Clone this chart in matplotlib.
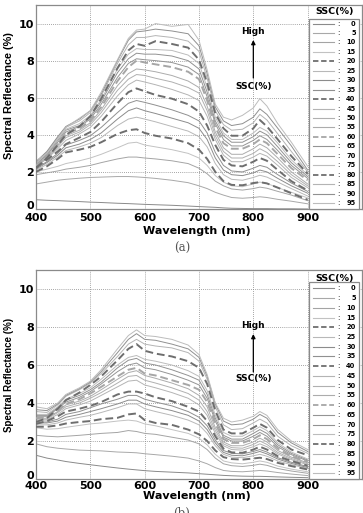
import matplotlib
matplotlib.use("Agg")
import matplotlib.pyplot as plt
from matplotlib.patches import Rectangle
from matplotlib.lines import Line2D

# ---------------- data ----------------
wavelength = [400, 420, 440, 455, 480, 500, 520, 550, 570, 585, 600, 620, 650,
              680, 700, 715, 730, 745, 760, 780, 800, 812, 825, 845, 870, 900]
ssc = [0, 5, 10, 15, 20, 25, 30, 35, 40, 45, 50, 55, 60, 65, 70, 75, 80, 85, 90, 95]

panel_a = [
    [0.50, 0.47, 0.45, 0.43, 0.40, 0.37, 0.35, 0.31, 0.29, 0.27, 0.25, 0.23, 0.20, 0.16, 0.13, 0.11, 0.09, 0.06, 0.04, 0.03, 0.02, 0.02, 0.02, 0.01, 0.01, 0.00],
    [1.35, 1.45, 1.55, 1.60, 1.66, 1.70, 1.72, 1.75, 1.75, 1.73, 1.70, 1.65, 1.55, 1.42, 1.25, 1.10, 0.90, 0.75, 0.62, 0.58, 0.62, 0.66, 0.62, 0.52, 0.42, 0.28],
    [1.85, 1.95, 2.05, 2.15, 2.25, 2.35, 2.50, 2.70, 2.80, 2.80, 2.75, 2.70, 2.60, 2.45, 2.20, 1.90, 1.50, 1.25, 1.08, 1.02, 1.10, 1.18, 1.12, 0.95, 0.75, 0.45],
    [2.00, 2.15, 2.30, 2.45, 2.60, 2.75, 2.95, 3.30, 3.55, 3.60, 3.45, 3.35, 3.20, 3.00, 2.75, 2.35, 1.80, 1.45, 1.25, 1.20, 1.35, 1.45, 1.38, 1.15, 0.90, 0.60],
    [2.00, 2.30, 2.70, 3.05, 3.20, 3.35, 3.60, 4.05, 4.25, 4.30, 4.10, 3.95, 3.80, 3.55, 3.20, 2.70, 2.00, 1.50, 1.30, 1.28, 1.40, 1.45, 1.38, 1.15, 0.85, 0.50],
    [2.10, 2.40, 2.80, 3.15, 3.35, 3.55, 3.85, 4.50, 4.85, 4.95, 4.85, 4.70, 4.45, 4.20, 3.90, 3.35, 2.45, 1.85, 1.60, 1.55, 1.70, 1.82, 1.72, 1.45, 1.10, 0.70],
    [2.15, 2.50, 2.90, 3.30, 3.50, 3.75, 4.10, 4.85, 5.30, 5.45, 5.30, 5.15, 4.90, 4.65, 4.35, 3.75, 2.75, 2.10, 1.85, 1.80, 1.95, 2.10, 2.00, 1.65, 1.25, 0.85],
    [2.20, 2.55, 3.00, 3.45, 3.70, 3.95, 4.40, 5.20, 5.70, 5.85, 5.75, 5.60, 5.35, 5.05, 4.75, 4.10, 3.05, 2.35, 2.05, 2.00, 2.20, 2.35, 2.25, 1.85, 1.40, 0.95],
    [2.25, 2.65, 3.10, 3.50, 3.85, 4.15, 4.70, 5.70, 6.30, 6.50, 6.35, 6.15, 5.95, 5.65, 5.25, 4.50, 3.45, 2.65, 2.35, 2.30, 2.55, 2.75, 2.60, 2.10, 1.50, 1.00],
    [2.30, 2.70, 3.25, 3.70, 4.05, 4.40, 5.00, 6.10, 6.70, 6.95, 6.85, 6.70, 6.45, 6.15, 5.85, 5.00, 3.75, 2.90, 2.55, 2.55, 2.80, 3.00, 2.85, 2.35, 1.70, 1.15],
    [2.30, 2.75, 3.35, 3.85, 4.15, 4.55, 5.20, 6.40, 7.00, 7.25, 7.20, 7.05, 6.85, 6.55, 6.25, 5.30, 3.95, 3.10, 2.75, 2.75, 3.00, 3.25, 3.05, 2.55, 1.85, 1.25],
    [2.35, 2.80, 3.45, 3.95, 4.25, 4.65, 5.35, 6.65, 7.30, 7.55, 7.50, 7.40, 7.20, 6.90, 6.55, 5.55, 4.15, 3.30, 2.95, 2.95, 3.25, 3.50, 3.30, 2.75, 2.00, 1.35],
    [2.35, 2.85, 3.50, 4.05, 4.35, 4.75, 5.50, 6.90, 7.65, 8.00, 7.90, 7.80, 7.65, 7.40, 7.00, 5.85, 4.40, 3.55, 3.25, 3.25, 3.50, 3.75, 3.55, 2.95, 2.20, 1.55],
    [2.40, 2.90, 3.60, 4.15, 4.45, 4.85, 5.65, 7.10, 7.85, 8.10, 8.05, 8.00, 7.90, 7.65, 7.25, 6.05, 4.60, 3.75, 3.40, 3.40, 3.70, 3.95, 3.75, 3.15, 2.35, 1.65],
    [2.40, 2.95, 3.70, 4.25, 4.50, 4.95, 5.80, 7.35, 8.10, 8.40, 8.35, 8.35, 8.25, 8.00, 7.55, 6.30, 4.75, 3.95, 3.60, 3.60, 3.90, 4.20, 4.00, 3.35, 2.50, 1.75],
    [2.45, 3.00, 3.75, 4.30, 4.60, 5.05, 5.90, 7.55, 8.35, 8.65, 8.60, 8.60, 8.55, 8.30, 7.85, 6.55, 4.95, 4.10, 3.75, 3.75, 4.10, 4.40, 4.20, 3.55, 2.65, 1.85],
    [2.20, 2.75, 3.45, 4.00, 4.45, 5.00, 5.95, 7.60, 8.55, 8.90, 8.80, 9.05, 8.90, 8.70, 8.05, 6.80, 5.15, 4.35, 3.95, 3.95, 4.35, 4.80, 4.45, 3.75, 2.85, 1.90],
    [2.50, 3.05, 3.85, 4.40, 4.75, 5.20, 6.10, 7.85, 8.85, 9.25, 9.25, 9.35, 9.25, 9.05, 8.50, 7.05, 5.30, 4.55, 4.25, 4.30, 4.65, 5.10, 4.80, 4.05, 3.10, 2.00],
    [2.55, 3.10, 3.90, 4.45, 4.85, 5.30, 6.20, 8.00, 9.10, 9.55, 9.60, 9.70, 9.60, 9.45, 8.80, 7.30, 5.50, 4.75, 4.50, 4.60, 4.95, 5.40, 5.10, 4.35, 3.40, 2.10],
    [2.60, 3.00, 3.80, 4.40, 4.90, 5.30, 6.30, 8.05, 9.20, 9.65, 9.70, 10.00, 9.85, 9.95, 9.10, 7.50, 5.65, 4.95, 4.80, 5.05, 5.45, 5.95, 5.55, 4.60, 3.60, 2.30],
]

panel_b = [
    [1.25, 1.10, 1.00, 0.92, 0.82, 0.75, 0.68, 0.58, 0.52, 0.48, 0.44, 0.40, 0.36, 0.32, 0.28, 0.25, 0.22, 0.19, 0.17, 0.15, 0.14, 0.14, 0.13, 0.11, 0.09, 0.07],
    [1.85, 1.70, 1.62, 1.58, 1.52, 1.50, 1.48, 1.42, 1.40, 1.38, 1.33, 1.28, 1.20, 1.10, 0.95, 0.80, 0.60, 0.45, 0.40, 0.38, 0.42, 0.45, 0.42, 0.34, 0.26, 0.18],
    [2.30, 2.25, 2.22, 2.25, 2.30, 2.35, 2.40, 2.45, 2.55, 2.50, 2.40, 2.35, 2.20, 2.05, 1.85, 1.55, 1.10, 0.80, 0.70, 0.66, 0.72, 0.78, 0.72, 0.55, 0.42, 0.30],
    [2.70, 2.62, 2.65, 2.72, 2.82, 2.90, 2.95, 3.05, 3.10, 3.05, 2.90, 2.80, 2.60, 2.40, 2.15, 1.80, 1.30, 0.95, 0.85, 0.80, 0.88, 0.95, 0.88, 0.68, 0.52, 0.38],
    [2.75, 2.75, 2.82, 2.92, 3.00, 3.05, 3.15, 3.22, 3.40, 3.45, 3.10, 2.95, 2.85, 2.60, 2.35, 2.00, 1.50, 1.15, 1.05, 1.02, 1.08, 1.12, 1.05, 0.85, 0.68, 0.50],
    [2.85, 2.85, 2.95, 3.10, 3.25, 3.35, 3.50, 3.75, 3.95, 3.95, 3.70, 3.55, 3.35, 3.10, 2.85, 2.40, 1.75, 1.30, 1.15, 1.12, 1.22, 1.30, 1.20, 0.95, 0.75, 0.55],
    [2.95, 2.95, 3.05, 3.25, 3.40, 3.55, 3.70, 3.95, 4.15, 4.15, 3.95, 3.80, 3.60, 3.35, 3.05, 2.60, 1.90, 1.40, 1.25, 1.22, 1.35, 1.45, 1.32, 1.05, 0.82, 0.60],
    [3.00, 3.00, 3.15, 3.40, 3.55, 3.75, 3.95, 4.20, 4.40, 4.40, 4.20, 4.05, 3.85, 3.55, 3.25, 2.80, 2.05, 1.50, 1.35, 1.32, 1.45, 1.55, 1.42, 1.12, 0.88, 0.65],
    [2.90, 3.05, 3.30, 3.55, 3.70, 3.85, 4.05, 4.45, 4.60, 4.60, 4.50, 4.30, 4.10, 3.80, 3.55, 3.05, 2.25, 1.60, 1.40, 1.38, 1.55, 1.70, 1.55, 1.20, 0.95, 0.70],
    [3.10, 3.10, 3.40, 3.70, 3.90, 4.10, 4.40, 4.85, 5.15, 5.20, 4.95, 4.80, 4.55, 4.25, 3.90, 3.35, 2.40, 1.75, 1.55, 1.52, 1.70, 1.85, 1.70, 1.32, 1.02, 0.75],
    [3.15, 3.15, 3.50, 3.80, 4.00, 4.25, 4.55, 5.05, 5.40, 5.45, 5.20, 5.05, 4.80, 4.50, 4.15, 3.55, 2.55, 1.85, 1.65, 1.62, 1.82, 2.00, 1.82, 1.40, 1.08, 0.80],
    [3.20, 3.20, 3.55, 3.90, 4.10, 4.35, 4.70, 5.25, 5.60, 5.70, 5.45, 5.30, 5.05, 4.75, 4.40, 3.80, 2.70, 1.95, 1.75, 1.75, 1.95, 2.15, 1.95, 1.50, 1.15, 0.85],
    [3.20, 3.25, 3.60, 3.95, 4.20, 4.50, 4.85, 5.40, 5.75, 5.85, 5.55, 5.45, 5.20, 4.95, 4.70, 4.05, 2.90, 2.10, 1.90, 1.90, 2.10, 2.30, 2.10, 1.60, 1.20, 0.90],
    [3.30, 3.30, 3.70, 4.05, 4.30, 4.60, 5.00, 5.65, 6.00, 6.10, 5.85, 5.75, 5.50, 5.20, 4.95, 4.25, 3.05, 2.20, 2.00, 2.00, 2.25, 2.45, 2.25, 1.70, 1.28, 0.95],
    [3.35, 3.35, 3.75, 4.15, 4.40, 4.70, 5.10, 5.85, 6.25, 6.35, 6.10, 6.00, 5.75, 5.45, 5.20, 4.45, 3.20, 2.30, 2.10, 2.10, 2.40, 2.60, 2.40, 1.80, 1.35, 1.00],
    [3.40, 3.40, 3.80, 4.20, 4.50, 4.80, 5.25, 6.00, 6.40, 6.50, 6.30, 6.20, 6.00, 5.70, 5.40, 4.65, 3.35, 2.45, 2.25, 2.25, 2.55, 2.75, 2.55, 1.90, 1.42, 1.05],
    [3.00, 3.20, 3.70, 4.15, 4.55, 4.95, 5.40, 6.25, 6.85, 7.10, 6.75, 6.60, 6.45, 6.20, 5.85, 5.00, 3.60, 2.60, 2.40, 2.40, 2.70, 2.90, 2.70, 2.05, 1.55, 1.25],
    [3.55, 3.50, 3.90, 4.35, 4.70, 5.05, 5.55, 6.45, 7.10, 7.35, 7.10, 7.00, 6.90, 6.65, 6.20, 5.25, 3.80, 2.85, 2.60, 2.65, 2.95, 3.15, 2.95, 2.25, 1.75, 1.35],
    [3.65, 3.60, 3.95, 4.40, 4.75, 5.10, 5.65, 6.65, 7.35, 7.65, 7.35, 7.30, 7.10, 6.85, 6.40, 5.40, 3.95, 3.05, 2.85, 2.90, 3.15, 3.40, 3.20, 2.45, 1.90, 1.45],
    [3.80, 3.70, 4.00, 4.45, 4.80, 5.15, 5.75, 6.85, 7.55, 7.85, 7.55, 7.50, 7.35, 7.05, 6.55, 5.50, 4.00, 3.20, 3.00, 3.10, 3.30, 3.55, 3.35, 2.60, 2.00, 1.55],
]

for _s in panel_a + panel_b:
    assert len(_s) == len(wavelength)

x_ticks = [400, 500, 600, 700, 800, 900]
y_ticks = [0, 2, 4, 6, 8, 10]

# ---------------- styles ----------------
colors = ['#8a8a8a', '#a8a8a8', '#a4a4a4', '#c2c2c2', '#6e6e6e', '#b8b8b8', '#8c8c8c', '#909090',
          '#6e6e6e', '#b4b4b4', '#b0b0b0', '#acacac', '#a6a6a6', '#949494', '#929292', '#bcbcbc',
          '#6e6e6e', '#b4b4b4', '#909090', '#bcbcbc']
dashed = {4, 8, 12, 16}

W, H = 363, 513
fig = plt.figure(figsize=(W / 100, H / 100), dpi=100)
fig.patch.set_facecolor('white')


def fx(x):
    return x / W


def fy(y):
    return 1 - y / H


def make_panel(data, top_px, bot_px, legend_px, arrow_px, xlabel_px, caption_px, caption,
               ylab_size, ylab_pos, xpad):
    left, right = 36, 362
    ax = fig.add_axes([fx(left), fy(bot_px), (right - left) / W, (bot_px - top_px) / H])
    for i, series in enumerate(data):
        if i in dashed:
            ax.plot(wavelength, series, color=colors[i], lw=1.4, ls=(0, (4, 2)), zorder=3)
        else:
            ax.plot(wavelength, series, color=colors[i], lw=0.7, zorder=2)
    ax.set_xlim(400, 1000)
    ax.set_ylim(0, 11)
    ax.set_xticks(x_ticks)
    ax.set_yticks(y_ticks)
    ax.tick_params(axis='y', length=0, pad=1.5)
    ax.tick_params(axis='x', length=0, pad=xpad)
    for lab in ax.get_xticklabels() + ax.get_yticklabels():
        lab.set_fontweight('bold')
        lab.set_fontsize(8)
        lab.set_family('DejaVu Sans')
    ax.get_yticklabels()[0].set_verticalalignment('baseline')
    for s in ax.spines.values():
        s.set_color('#8a8a8a')
        s.set_linewidth(0.9)
    ax.grid(True, ls=(0, (1, 1.5)), color='#888888', lw=0.6)
    ax.set_axisbelow(True)
    ax.set_ylabel('Spectral Reflectance (%)', fontsize=ylab_size, fontweight='bold',
                  family='Liberation Sans')
    ax.yaxis.set_label_coords(-0.066, ylab_pos)

    # x label and caption
    fig.text(fx(197), fy(xlabel_px), 'Wavelength (nm)', ha='center', va='center',
             fontsize=8, fontweight='bold', family='DejaVu Sans')
    fig.text(fx(182), fy(caption_px), caption, ha='center', va='center',
             fontsize=8.5, family='DejaVu Serif', color='#555555')

    # arrow annotation
    y_text_low, y_tail, y_head, y_high = arrow_px

    def dy(p):
        return (bot_px - p) / (bot_px - top_px) * 11

    ax.annotate('', xy=(800, dy(y_head)), xytext=(800, dy(y_tail)),
                arrowprops=dict(arrowstyle='-|>', color='black', lw=0.9,
                                mutation_scale=6, shrinkA=0, shrinkB=0))
    ax.text(800, dy(y_high), 'High', ha='center', va='center', fontsize=6.5,
            fontweight='bold', family='DejaVu Sans')
    ax.text(800, dy(y_text_low), 'SSC(%)', ha='center', va='center', fontsize=6.5,
            fontweight='bold', family='DejaVu Sans')

    # custom legend
    title_y, box_top, row0, spacing = legend_px
    box = Rectangle((fx(309), fy(bot_px)), (359 - 309) / W, (bot_px - box_top) / H,
                    transform=fig.transFigure, facecolor='white', edgecolor='#8a8a8a',
                    lw=0.9, zorder=5)
    fig.add_artist(box)
    fig.text(fx(335), fy(title_y), 'SSC(%)', ha='center', va='center', fontsize=6.8,
             fontweight='bold', family='DejaVu Sans', zorder=6)
    for i, val in enumerate(ssc):
        yy = fy(row0 + spacing * i)
        if i in dashed:
            ln = Line2D([fx(313), fx(334)], [yy, yy], transform=fig.transFigure,
                        color=colors[i], lw=1.3, ls=(0, (3, 1.5)), zorder=6)
        else:
            ln = Line2D([fx(313), fx(334)], [yy, yy], transform=fig.transFigure,
                        color=colors[i], lw=0.8, zorder=6)
        fig.add_artist(ln)
        fig.text(fx(338), yy, ':', ha='center', va='center', fontsize=5,
                 family='DejaVu Sans', zorder=6)
        fig.text(fx(355.5), yy, str(val), ha='right', va='center', fontsize=4.8,
                 fontweight='bold', family='DejaVu Sans', zorder=6)
    return ax


make_panel(panel_a, 5, 209, (11.5, 19.3, 23.5, 9.45), (86, 78, 40, 32), 231, 248, '(a)',
           7.8, 0.555, 3.2)
make_panel(panel_b, 270, 479, (278, 282.3, 288.3, 9.74), (378, 372, 334, 325), 496, 513, '(b)',
           7.0, 0.50, 1.5)

fig.savefig('out.png', dpi=100)
